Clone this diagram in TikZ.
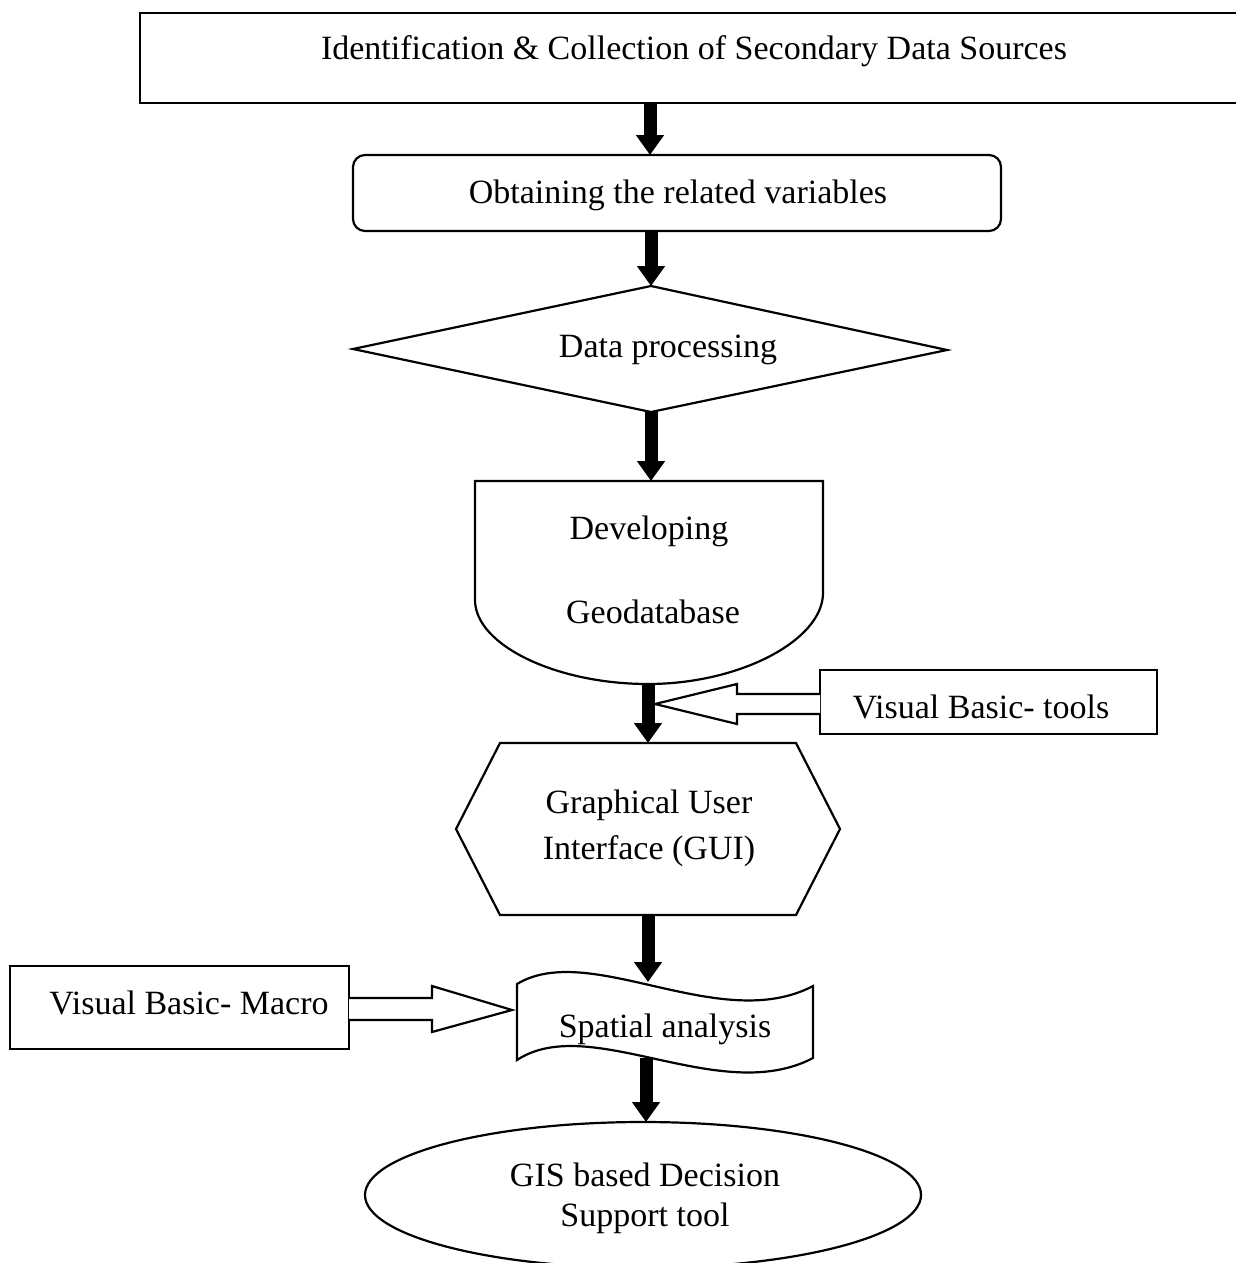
\documentclass[tikz,border=0pt]{standalone}
\usepackage{fontspec}
\setmainfont{Liberation Serif}
\usetikzlibrary{arrows.meta}
\begin{document}
\begin{tikzpicture}[x=1pt,y=-1pt,
  outline/.style={draw, line width=2.2pt, line join=miter},
  txt/.style={font=\fontsize{34}{40}\selectfont, inner sep=0pt},
  flow/.style={line width=13pt, -{Triangle[width=27pt,length=20pt]}},
  hollow/.style={draw, line width=2.2pt, fill=white, line join=miter}]
\useasboundingbox (0,0) rectangle (1236,1263);
\clip (0,0) rectangle (1236,1263);

% 1 identification box
\draw[outline] (140,13) rectangle (1250,103);
\node[txt] (t1) at (694,51) {Identification \& Collection of Secondary Data Sources};
\coordinate (s1b) at (650,103);

% 2 rounded box
\draw[outline, rounded corners=12pt] (353,155) rectangle (1001,231);
\node[txt] (t2) at (678,195) {Obtaining the related variables};
\coordinate (s2t) at (650,155);
\coordinate (s2b) at (651,231);

% 3 diamond
\draw[outline] (353,349) -- (651,286) -- (947,350) -- (651,412) -- cycle;
\node[txt] (t3) at (668,350) {Data processing};
\coordinate (s3t) at (651,286);
\coordinate (s3b) at (651,412);

% 4 geodatabase
\draw[outline] (475,481) -- (823,481) -- (823,593)
  .. controls (823,640) and (740,684) .. (648,684)
  .. controls (556,684) and (475,645) .. (475,600) -- cycle;
\node[txt] (t4a) at (649,531) {Developing};
\node[txt] (t4b) at (653,612) {Geodatabase};
\coordinate (s4t) at (651,481);
\coordinate (s4b) at (648,684);

% 5 hexagon
\draw[outline] (500,743) -- (796,743) -- (840,829) -- (796,915) -- (500,915) -- (456,829) -- cycle;
\node[txt, align=center] (t5) at (649,828) {Graphical User\\[6pt]Interface (GUI)};
\coordinate (s5t) at (648,743);
\coordinate (s5b) at (648,915);

% 6 spatial analysis (tape)
\draw[outline] (517,984) .. controls (590,940) and (720,1035) .. (813,986)
  -- (813,1058) .. controls (720,1107) and (590,1012) .. (517,1060) -- cycle;
\node[txt] (t6) at (665,1029) {Spatial analysis};
\coordinate (s6t) at (648,982);
\coordinate (s6b) at (646,1058);

% 7 ellipse
\draw[outline] (643,1195) ellipse [x radius=278, y radius=73];
\node[txt, align=center] (t7) at (645,1198) {GIS based Decision\\Support tool};
\coordinate (s7t) at (646,1122);

% side boxes
\draw[outline] (820,670) rectangle (1157,734);
\node[txt] (t8) at (981,707) {Visual Basic- tools};
\coordinate (s8l) at (820,704);
\coordinate (s8tip) at (655,704);

\draw[outline] (10,966) rectangle (349,1049);
\node[txt] (t9) at (189,1003) {Visual Basic- Macro};
\coordinate (s9r) at (349,1009);
\coordinate (s9tip) at (512,1010);

% flow arrows
\draw[flow] (s1b) -- (s2t);
\draw[flow] (s2b) -- (s3t);
\draw[flow] (s3b) -- (s4t);
\draw[flow] (s4b) -- (s5t);
\draw[flow] (s5b) -- (s6t);
\draw[flow] (s6b) -- (s7t);

% hollow arrows
\draw[hollow] (s8l) ++(0,-10) -- (737,694) -- (737,684) -- (s8tip) -- (737,724) -- (737,714) -- (820,714);
\draw[hollow] (s9r) ++(0,-11) -- (432,998) -- (432,986) -- (s9tip) -- (432,1032) -- (432,1020) -- (349,1020);
\end{tikzpicture}
\end{document}
